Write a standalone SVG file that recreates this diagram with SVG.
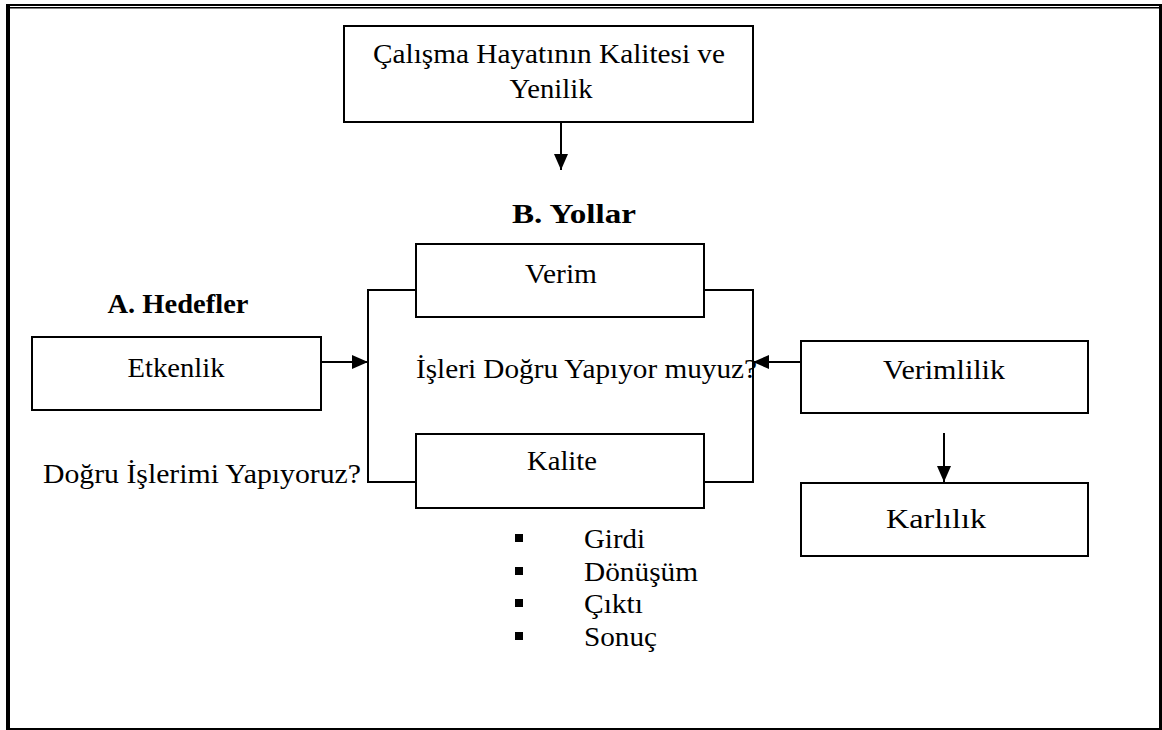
<svg xmlns="http://www.w3.org/2000/svg" width="1162" height="730" viewBox="0 0 1162 730">
  <style>
    .box { fill: #fff; stroke: #000; stroke-width: 2; }
    .line { fill: none; stroke: #000; stroke-width: 2; }
    .t { font-family: 'Liberation Serif', 'Times New Roman', serif; font-size: 28px; fill: #000; }
    .b { font-weight: bold; }
    .mid { text-anchor: middle; }
  </style>
  <defs>
    <marker id="arrow" markerWidth="16" markerHeight="14" refX="16" refY="7" orient="auto" markerUnits="userSpaceOnUse">
      <path d="M0,0 L16,7 L0,14 Z" fill="#000"/>
    </marker>
  </defs>

  <rect width="1162" height="730" fill="#fff"/>

  <!-- page frame -->
  <g id="frame" fill="#000">
    <rect x="6" y="4" width="1156" height="2"/>
    <rect x="6" y="7" width="1156" height="1.5"/>
    <rect x="6" y="4" width="4" height="726"/>
    <rect x="1159" y="4" width="3" height="726"/>
    <rect x="6" y="728" width="1156" height="2"/>
  </g>

  <!-- connectors -->
  <g id="connectors">
    <path class="line" d="M416,290 H368 V482 H416"/>
    <path class="line" d="M704,290 H753 V482 H704"/>
    <line class="line" x1="561" y1="122" x2="561" y2="170" marker-end="url(#arrow)"/>
    <line class="line" x1="321" y1="362" x2="368" y2="362" marker-end="url(#arrow)"/>
    <line class="line" x1="801" y1="362" x2="753" y2="362" marker-end="url(#arrow)"/>
    <line class="line" x1="944" y1="433" x2="944" y2="482" marker-end="url(#arrow)"/>
  </g>

  <g id="node-quality-of-work-life">
    <rect class="box" x="344" y="26" width="409" height="96"/>
    <text class="t mid" x="549" y="63" textLength="352" lengthAdjust="spacingAndGlyphs">Çalışma Hayatının Kalitesi ve</text>
    <text class="t mid" x="551" y="98" textLength="83" lengthAdjust="spacingAndGlyphs">Yenilik</text>
  </g>

  <g id="label-ways">
    <text class="t b mid" x="574" y="223" textLength="124" lengthAdjust="spacingAndGlyphs">B. Yollar</text>
  </g>

  <g id="label-goals">
    <text class="t b mid" x="178" y="313" textLength="141" lengthAdjust="spacingAndGlyphs">A. Hedefler</text>
  </g>

  <g id="node-verim">
    <rect class="box" x="416" y="244" width="288" height="73"/>
    <text class="t mid" x="561" y="283" textLength="72" lengthAdjust="spacingAndGlyphs">Verim</text>
  </g>

  <g id="label-question-right">
    <text class="t" x="416" y="378" textLength="341" lengthAdjust="spacingAndGlyphs">İşleri Doğru Yapıyor muyuz?</text>
  </g>

  <g id="node-kalite">
    <rect class="box" x="416" y="434" width="288" height="74"/>
    <text class="t mid" x="562" y="470" textLength="70" lengthAdjust="spacingAndGlyphs">Kalite</text>
  </g>

  <g id="node-etkenlik">
    <rect class="box" x="32" y="337" width="289" height="73"/>
    <text class="t mid" x="176" y="377" textLength="97" lengthAdjust="spacingAndGlyphs">Etkenlik</text>
  </g>

  <g id="label-question-left">
    <text class="t" x="43" y="483" textLength="318" lengthAdjust="spacingAndGlyphs">Doğru İşlerimi Yapıyoruz?</text>
  </g>

  <g id="node-verimlilik">
    <rect class="box" x="801" y="341" width="287" height="72"/>
    <text class="t mid" x="944" y="379" textLength="122" lengthAdjust="spacingAndGlyphs">Verimlilik</text>
  </g>

  <g id="node-karlilik">
    <rect class="box" x="801" y="483" width="287" height="73"/>
    <text class="t mid" x="936" y="528" textLength="100" lengthAdjust="spacingAndGlyphs">Karlılık</text>
  </g>

  <g id="list-process">
    <rect x="515" y="534" width="8" height="8" fill="#000"/>
    <text class="t" x="584" y="548" textLength="61" lengthAdjust="spacingAndGlyphs">Girdi</text>
    <rect x="515" y="567" width="8" height="8" fill="#000"/>
    <text class="t" x="584" y="581" textLength="114" lengthAdjust="spacingAndGlyphs">Dönüşüm</text>
    <rect x="515" y="599" width="8" height="8" fill="#000"/>
    <text class="t" x="584" y="613" textLength="59" lengthAdjust="spacingAndGlyphs">Çıktı</text>
    <rect x="515" y="632" width="8" height="8" fill="#000"/>
    <text class="t" x="584" y="646" textLength="73" lengthAdjust="spacingAndGlyphs">Sonuç</text>
  </g>
</svg>
